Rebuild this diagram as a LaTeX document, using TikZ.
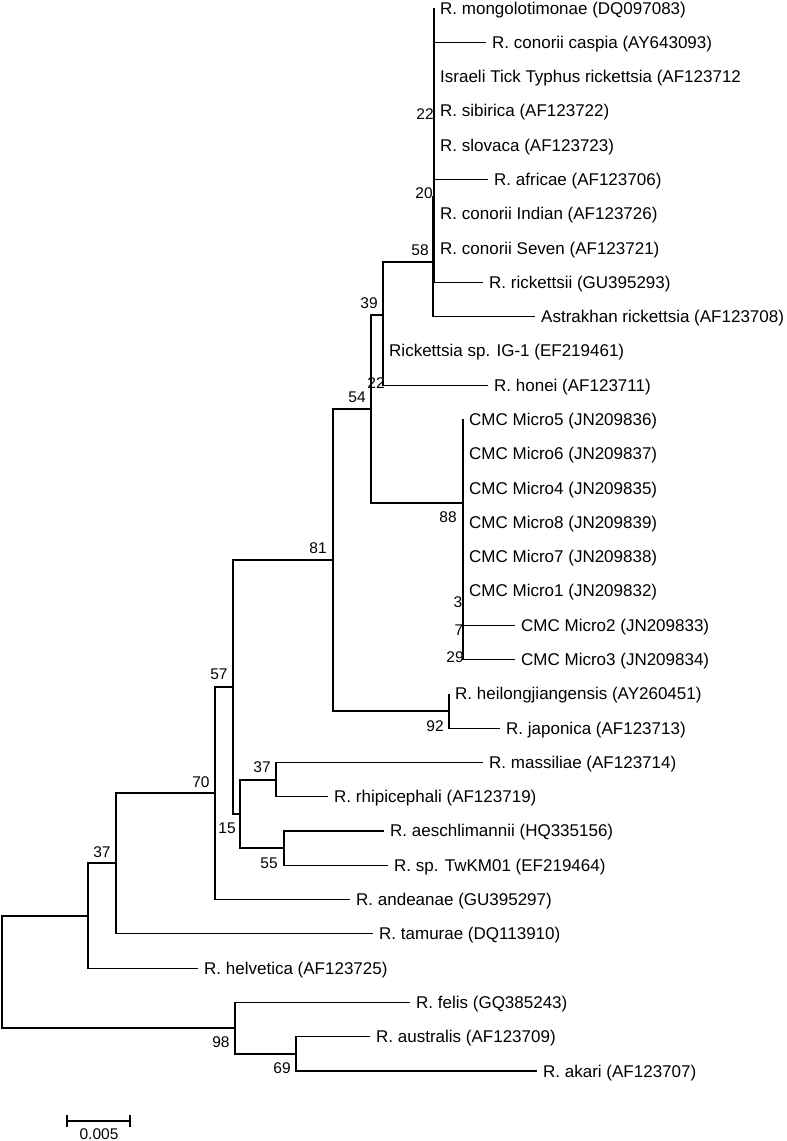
\documentclass[tikz,border=0pt]{standalone}
\usepackage{fontspec}
\setmainfont{Liberation Sans}
\newcommand\taxonfont{\fontsize{17}{20}\selectfont}
\newcommand\bootfont{\fontsize{15.5}{17}\selectfont}
\tikzset{
  branch/.style={line width=1.2pt},
  leaf/.style={anchor=west,inner xsep=6pt,inner ysep=0pt,text height=12pt,text depth=0pt,font=\taxonfont},
  boot/.style={inner sep=0pt,font=\bootfont}
}
\begin{document}
\begin{tikzpicture}[x=1pt,y=-1pt]
   \useasboundingbox (0,0) rectangle (787,1141);
   \foreach \n/\x/\y in
     {n22/434/111, n20/434/197, n58/433/262, n39/383/315, n22b/383/368,
      n54/371/409, n88/463/503, n29/463/642, n81/333/560, n92/449/711,
      n57/233/687, n15/240/814, n37r/276/780, n55/284/848, n70/215/793,
      n37/116/863, n37l/88/916, n98/235/1028, n69/296/1054, root/2/972}
     \coordinate (\n) at (\x,\y);
   \foreach \i/\x/\t in
     { 1/434/{R. mongolotimonae (DQ097083)},
       2/486/{R. conorii caspia (AY643093)},
       3/434/{Israeli Tick Typhus rickettsia (AF123712},
       4/434/{R. sibirica (AF123722)},
       5/434/{R. slovaca (AF123723)},
       6/488/{R. africae (AF123706)},
       7/434/{R. conorii Indian (AF123726)},
       8/434/{R. conorii Seven (AF123721)},
       9/483/{R. rickettsii (GU395293)},
      10/535/{Astrakhan rickettsia (AF123708)},
      11/383/{Rickettsia sp. IG-1 (EF219461)},
      12/488/{R. honei (AF123711)},
      13/463/{CMC Micro5 (JN209836)},
      14/463/{CMC Micro6 (JN209837)},
      15/463/{CMC Micro4 (JN209835)},
      16/463/{CMC Micro8 (JN209839)},
      17/463/{CMC Micro7 (JN209838)},
      18/463/{CMC Micro1 (JN209832)},
      19/515/{CMC Micro2 (JN209833)},
      20/515/{CMC Micro3 (JN209834)},
      21/449/{R. heilongjiangensis (AY260451)},
      22/500/{R. japonica (AF123713)},
      23/483/{R. massiliae (AF123714)},
      24/328/{R. rhipicephali (AF123719)},
      25/384/{R. aeschlimannii (HQ335156)},
      26/388/{R. sp. TwKM01 (EF219464)},
      27/350/{R. andeanae (GU395297)},
      28/373/{R. tamurae (DQ113910)},
      29/198/{R. helvetica (AF123725)},
      30/410/{R. felis (GQ385243)},
      31/370/{R. australis (AF123709)},
      32/537/{R. akari (AF123707)}
     }
     \node[leaf] (l\i) at (\x,{8+(\i-1)*34.29}) {\t};
   \foreach \p/\c in
     {n22/l1, n22/l2, n22/l3, n22/l4, n22/l5, n22/l6, n20/l7, n20/l8, n20/l9,
      n58/l10, n22b/l11, n22b/l12, n88/l13, n88/l14, n88/l15, n88/l16, n88/l17,
      n88/l18, n29/l19, n29/l20, n92/l21, n92/l22, n37r/l23, n37r/l24, n55/l25,
      n55/l26, n70/l27, n37/l28, n37l/l29, n98/l30, n69/l31, n69/l32}
     \draw[branch] (\p) |- (\c.west);
   \foreach \p/\c in
     {n20/n22, n58/n20, n39/n58, n39/n22b, n54/n39, n54/n88, n88/n29, n81/n54,
      n81/n92, n57/n81, n57/n15, n15/n37r, n15/n55, n70/n57, n37/n70, n37l/n37,
      root/n37l, root/n98, n98/n69}
     \draw[branch] (\p) |- (\c);
   \foreach \x/\y/\b [count=\k] in
     {425/114/22, 424/193/20, 420/250/58, 369/303/39, 376/383/22, 357/397/54,
      448/517/88, 458/602/3, 459/630/7, 455/657/29, 318/548/81, 435/726/92,
      219/674/57, 262/767/37, 227/828/15, 201/782/70, 269/863/55, 102/852/37,
      221/1042/98, 282/1068/69}
     \node[boot] (b\k) at (\x,\y) {\b};
   \coordinate (sa) at (67,1121);
   \coordinate (sb) at (130,1121);
   \draw[branch] (sa) -- (sb);
   \draw[branch] ([yshift=6pt]sa) -- ([yshift=-6pt]sa);
   \draw[branch] ([yshift=6pt]sb) -- ([yshift=-6pt]sb);
   \node[boot] (scale) at (99,1134) {0.005};
\end{tikzpicture}
\end{document}
